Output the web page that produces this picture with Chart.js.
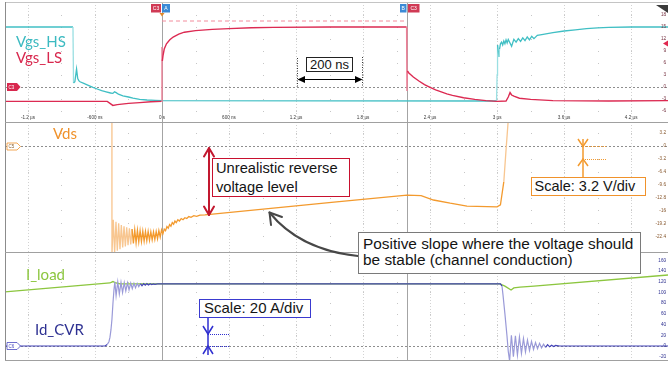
<!DOCTYPE html>
<html><head><meta charset="utf-8">
<script src="https://cdn.jsdelivr.net/npm/chart.js@4.4.1/dist/chart.umd.min.js"></script>
<style>
html,body{margin:0;padding:0;background:#fff;}
#wrap{position:relative;width:668px;height:368px;overflow:hidden;background:#fff;}
canvas{position:absolute;left:0;}
.lbl{position:absolute;font-family:Lato,"Liberation Sans",sans-serif;font-size:15px;line-height:15px;white-space:nowrap;}
.box{position:absolute;box-sizing:border-box;background:#fff;color:#141414;font-family:"Liberation Sans",Arial,sans-serif;white-space:nowrap;}
svg{position:absolute;left:0;top:0;}
</style></head><body>
<div id="wrap">
<canvas id="cTop" width="668" height="120" style="top:2px;width:668px;height:120px"></canvas>
<canvas id="cMid" width="668" height="130" style="top:122px;width:668px;height:130px"></canvas>
<canvas id="cBot" width="668" height="108" style="top:252px;width:668px;height:108px"></canvas>
<svg width="668" height="368">
 <g stroke-width="1" fill="none">
  <line x1="5" y1="2.5" x2="668" y2="2.5" stroke="#c4c4c4"/>
  <line x1="5.5" y1="2" x2="5.5" y2="361" stroke="#8c8c8c"/>
  <line x1="5" y1="122.5" x2="668" y2="122.5" stroke="#a0a0a0"/>
  <line x1="5" y1="252.5" x2="668" y2="252.5" stroke="#a0a0a0"/>
  <line x1="5" y1="360.5" x2="668" y2="360.5" stroke="#a0a0a0"/>
 </g>
 <!-- 200 ns marker -->
 <line x1="297.5" y1="58" x2="297.5" y2="87" stroke="#333" stroke-dasharray="1 1.5"/>
 <line x1="362.5" y1="57" x2="362.5" y2="86" stroke="#333" stroke-dasharray="1 1.5"/>
 <line x1="303" y1="79.5" x2="356" y2="79.5" stroke="#000"/>
 <polygon points="297.5,79.5 305,76 305,83" fill="#000"/>
 <polygon points="362.5,79.5 355,76 355,83" fill="#000"/>
 <!-- red double arrow -->
 <g stroke="#c2182f" stroke-width="2" fill="none" stroke-linecap="round" stroke-linejoin="round">
  <line x1="209" y1="148" x2="209" y2="215"/>
  <polyline points="204,156.5 209,148 214,156.5"/>
  <polyline points="204,206.5 209,215 214,206.5"/>
 </g>
 <!-- curved arrow -->
 <g stroke="#474747" stroke-width="2" fill="none" stroke-linecap="round" stroke-linejoin="round">
  <path d="M358,256 Q300,250 269.5,212.5"/>
  <polyline points="271,225 269.5,212.5 282,217"/>
 </g>
 <!-- orange scale marker -->
 <g stroke="#f39a2e" fill="none" stroke-width="1.5">
  <line x1="583" y1="139" x2="583" y2="177"/>
  <polyline points="578,139 583,146.5 588,139"/>
  <polyline points="578,166 583,159 588,166"/>
 </g>
 <g stroke="#f39a2e" stroke-width="1" stroke-dasharray="1 1">
  <line x1="583" y1="146.5" x2="606" y2="146.5"/>
  <line x1="583" y1="159.5" x2="606" y2="159.5"/>
 </g>
 <!-- blue scale marker -->
 <g stroke="#2f2fd0" fill="none" stroke-width="1.5">
  <line x1="208" y1="318" x2="208" y2="355"/>
  <polyline points="203,326 208,334 213,326"/>
  <polyline points="203,354 208,346 213,354"/>
 </g>
 <g stroke="#2f2fd0" stroke-width="1" stroke-dasharray="1 1">
  <line x1="208" y1="334.5" x2="230" y2="334.5"/>
  <line x1="208" y1="346.5" x2="230" y2="346.5"/>
 </g>
 <!-- channel tags -->
 <g font-family="Liberation Sans, Arial, sans-serif" font-size="4.5">
  <polygon points="7,83 17,83 20.5,87 17,91 7,91" fill="#d8284e"/>
  <text x="8.5" y="88.7" fill="#fff">C3</text>
  <polygon points="7,143 17,143 20.5,146.5 17,150 7,150" fill="#fff" stroke="#f0922b" stroke-width="0.8"/>
  <text x="8.5" y="148.2" fill="#8a6030">C5</text>
  <polygon points="7,342.5 17,342.5 20.5,346 17,349.5 7,349.5" fill="#fff" stroke="#4a4ac0" stroke-width="0.8"/>
  <text x="8.5" y="347.7" fill="#4a4ac0">C6</text>
  <rect x="151" y="4" width="10" height="8.5" fill="#d03a55"/>
  <text x="156" y="10" fill="#fff" text-anchor="middle" font-size="5">C3</text>
  <rect x="162" y="4" width="8" height="8.5" fill="#3b8ad6"/>
  <text x="166" y="10" fill="#fff" text-anchor="middle" font-size="5">A</text>
  <rect x="400" y="4" width="6.5" height="8.5" fill="#3b8ad6"/>
  <text x="403.2" y="10" fill="#fff" text-anchor="middle" font-size="5">B</text>
  <rect x="408" y="4" width="11.5" height="8.5" fill="#d03a55"/>
  <text x="413.7" y="10" fill="#fff" text-anchor="middle" font-size="5">C3</text>
 </g>
 <polygon points="159.5,13 164.5,13 162,16.5" fill="#e08a2a"/>
 <polygon points="656,5 668,5 668,13" fill="#3a3a3a"/>
 <polygon points="663,43.5 668,40.5 668,46.5" fill="#e0284f"/>
</svg>
<div class="lbl" style="left:16px;top:33.5px;color:#3cbac1">Vgs_HS</div>
<div class="lbl" style="left:16px;top:50px;color:#d8284e">Vgs_LS</div>
<div class="lbl" style="left:53px;top:125.7px;color:#f0922b">Vds</div>
<div class="lbl" style="left:26px;top:266.7px;color:#8cc63f">I_load</div>
<div class="lbl" style="left:35px;top:321.7px;color:#2e3192">Id_CVR</div>
<div class="box" style="left:306px;top:57px;width:47px;height:15px;border:1px solid #222;font-size:13px;line-height:13px;text-align:center;">200 ns</div>
<div class="box" style="left:212px;top:158px;width:138px;height:39px;border:1px solid #c8102e;font-size:14.7px;line-height:19px;padding-left:3px;">Unrealistic reverse<br>voltage level</div>
<div class="box" style="left:358px;top:232px;width:283px;height:42px;border:1px solid #7a7a7a;font-size:15.4px;line-height:16px;padding:3px 0 0 4px;">Positive slope where the voltage should<br>be stable (channel conduction)</div>
<div class="box" style="left:531px;top:177px;width:115px;height:19px;border:1.5px solid #f0922b;font-size:14.5px;line-height:16px;padding-left:2.5px;">Scale: 3.2 V/div</div>
<div class="box" style="left:199px;top:299px;width:112px;height:19px;border:1.5px solid #3a3ad0;font-size:15px;line-height:16px;padding-left:4px;">Scale: 20 A/div</div>
</div>
<script>
// ---- time axis (µs) ----
const X_MIN = -1.4055, X_MAX = 4.530;
const xMajorTicks = [-1.2,-0.6,0,0.6,1.2,1.8,2.4,3.0,3.6,4.2];
const xTickLabels = ['-1.2 µs','-600 ns','0 s','600 ns','1.2 µs','1.8 µs','2.4 µs','3 µs','3.6 µs','4.2 µs'];
const xMinorTicks = [-1.5,-0.9,-0.3,0.3,0.9,1.5,2.1,2.7,3.3,3.9,4.5];
const cursorTimes = [0, 2.193];

// ---- y ticks ----
const yTicksTop = [18,15,12,9,6,3,0,-3,-6];
const yLabelsTop = ['18','15','12','9','6','3','0','-3','-6'];
const yTicksMid = [3.2,0,-3.2,-6.4,-9.6,-12.8,-16,-19.2,-22.4];
const yLabelsMid = ['3.2','0','-3.2','-6.4','-9.6','-12.8','-16','-19.2','-22.4'];
const yTicksBot = [160,140,120,100,80,60,40,20,0,-20];
const yLabelsBot = ['160','140','120','100','80','60','40','20','0','-20'];

// ---- series [t (µs), value] ----
const vgsHS = [[-1.4055,15],[-0.797,15],[-0.792,1.0],[-0.78,1.3],[-0.765,4.5],[-0.755,2.2],[-0.745,1.6],[-0.734,1.3],[-0.70,0.9],[-0.66,0.4],[-0.618,-0.1],[-0.58,-0.5],[-0.54,-0.9],[-0.50,-1.2],[-0.46,-1.5],[-0.44,-1.6],[-0.425,-1.2],[-0.41,-1.4],[-0.39,-1.8],[-0.35,-2.2],[-0.30,-2.5],[-0.26,-2.8],[-0.20,-3.1],[-0.134,-3.25],[-0.06,-3.35],[0,-3.4],[1.5,-3.45],[2.995,-3.5],[3.000,3],[3.004,10.5],[3.010,9.0],[3.016,7.5],[3.022,9.5],[3.030,10.8],[3.040,11.2],[3.050,10.5],[3.060,11.5],[3.070,10.8],[3.080,11.8],[3.090,11.0],[3.100,11.9],[3.130,10.2],[3.150,11.9],[3.170,11.2],[3.190,12.1],[3.210,11.4],[3.230,12.3],[3.250,11.6],[3.270,12.5],[3.290,11.8],[3.310,12.7],[3.330,12.1],[3.360,12.9],[3.400,13.1],[3.500,13.6],[3.600,14.0],[3.700,14.3],[3.800,14.6],[3.900,14.8],[4.000,14.9],[4.200,15],[4.530,15]];
const vgsLS = [[-1.4055,-3.6],[-0.49,-3.6],[-0.44,-4.6],[-0.40,-4.4],[-0.30,-4.1],[-0.20,-3.9],[-0.10,-3.7],[-0.004,-3.6],[0,10],[0.003,6.5],[0.01,8],[0.02,9.5],[0.04,10.8],[0.07,11.8],[0.10,12.5],[0.15,13.2],[0.20,13.7],[0.30,14.1],[0.45,14.4],[0.60,14.6],[0.80,14.8],[1.0,14.9],[1.5,15],[2.19,15],[2.193,-1],[2.197,4.0],[2.21,3.5],[2.25,2.5],[2.30,1.5],[2.35,0.6],[2.40,-0.1],[2.45,-0.7],[2.50,-1.2],[2.55,-1.7],[2.60,-2.1],[2.70,-2.7],[2.80,-3.1],[2.90,-3.4],[3.00,-3.6],[3.08,-3.5],[3.10,-2.5],[3.116,-1.4],[3.13,-2.0],[3.15,-2.3],[3.20,-2.8],[3.30,-3.1],[3.50,-3.4],[4.0,-3.5],[4.53,-3.4]];
const vgsLSref = [[0,16.5],[2.193,16.5]];
const vds = [[-1.4055,30],[-0.449,30],[-0.448,-27],[-0.436,-18.3],[-0.424,-26.5],[-0.412,-18.8],[-0.400,-26],[-0.388,-19.2],[-0.376,-25.6],[-0.364,-19.6],[-0.352,-25.2],[-0.340,-19.9],[-0.328,-24.9],[-0.316,-20.2],[-0.304,-24.6],[-0.292,-20.4],[-0.280,-24.4],[-0.268,-20.6],[-0.256,-24.2],[-0.244,-20.8],[-0.232,-24.0],[-0.220,-20.9],[-0.208,-23.8],[-0.196,-21.0],[-0.184,-23.7],[-0.172,-21.1],[-0.160,-23.6],[-0.148,-21.2],[-0.136,-23.5],[-0.124,-21.2],[-0.112,-23.4],[-0.100,-21.3],[-0.088,-23.3],[-0.076,-21.3],[-0.064,-23.2],[-0.052,-21.2],[-0.040,-23.0],[-0.028,-21.0],[-0.016,-22.6],[-0.004,-20.8],[0.008,-21.8],[0.020,-20.6],[0.032,-21.0],[0.044,-20.0],[0.056,-20.4],[0.068,-19.5],[0.080,-19.9],[0.092,-19.0],[0.104,-19.4],[0.116,-18.6],[0.128,-19.0],[0.142,-18.3],[0.156,-18.6],[0.172,-18.0],[0.188,-18.3],[0.205,-17.8],[0.222,-18.0],[0.240,-17.5],[0.260,-17.7],[0.285,-17.3],[0.31,-17.45],[0.34,-17.15],[0.385,-17.1],[1.54,-13.9],[2.193,-12.2],[2.32,-12.3],[2.43,-13.4],[2.58,-14.2],[2.73,-14.9],[3.00,-15.1],[3.03,-14.6],[3.06,-8.9],[3.08,-1.0],[3.10,6.5],[3.12,30],[4.53,30]];
const iLoad = [[-1.4055,101],[-0.466,117.8],[-0.45,119.5],[-0.439,120.5],[-0.425,119],[-0.412,117.8],[-0.376,116.2],[0,116],[1.5,116],[3.026,116],[3.07,112],[3.125,104.7],[3.15,108.5],[3.205,110],[3.33,112],[4.53,132.7]];
const idCVR = [[-1.4055,0],[-0.51,0],[-0.49,3],[-0.475,8],[-0.466,16],[-0.457,30],[-0.448,50],[-0.439,80],[-0.430,105],[-0.422,120],[-0.411,94],[-0.396,120],[-0.382,97],[-0.367,119],[-0.353,100],[-0.338,118.5],[-0.324,103],[-0.309,118],[-0.295,105],[-0.280,117.5],[-0.266,107],[-0.251,117],[-0.237,109],[-0.222,117],[-0.208,111],[-0.193,116.5],[-0.179,112.5],[-0.164,116.5],[-0.150,113.5],[-0.135,116.5],[-0.121,114],[-0.106,116.3],[-0.092,114.8],[-0.077,116.2],[-0.063,115.2],[-0.040,116],[0,116],[3.03,116],[3.044,112],[3.053,95],[3.070,60],[3.088,20],[3.100,-10],[3.112,-28],[3.128,20],[3.146,-20],[3.164,19],[3.182,-17],[3.200,17],[3.218,-14],[3.236,14],[3.254,-11],[3.272,11],[3.290,-8.5],[3.308,8.5],[3.326,-6.5],[3.344,6.5],[3.362,-5],[3.380,5],[3.398,-3.5],[3.416,3.5],[3.434,-2.5],[3.452,2.5],[3.470,-1.5],[3.488,1.5],[3.506,-1],[3.524,1],[3.56,0],[4.53,0]];

const pts = a => a.map(([x,y]) => ({x,y}));
const fast = (thr, col) => c => {
  const dx = c.p1.parsed.x - c.p0.parsed.x, dy = c.p1.parsed.y - c.p0.parsed.y;
  return Math.abs(dy / (dx || 1e-9)) > thr ? col : undefined;
};

const scopePlugin = {
  id: 'scope',
  beforeDatasetsDraw(chart, args, o) {
    const {ctx, chartArea: a, scales: {x, y}} = chart;
    ctx.save();
    ctx.fillStyle = '#c6c6c6';
    for (const tx of xMinorTicks.concat(xMajorTicks)) {
      const px = Math.round(x.getPixelForValue(tx));
      for (const ty of o.yTicks) {
        if (ty === 0) continue;
        ctx.fillRect(px, Math.round(y.getPixelForValue(ty)), 1, 1);
      }
    }
    ctx.lineWidth = 1;
    ctx.strokeStyle = '#d2d2d2';
    ctx.setLineDash([1, 2]);
    for (const tx of xMajorTicks) {
      if (cursorTimes.includes(tx)) continue;
      const px = Math.round(x.getPixelForValue(tx)) + 0.5;
      ctx.beginPath(); ctx.moveTo(px, a.top); ctx.lineTo(px, a.bottom); ctx.stroke();
    }
    ctx.strokeStyle = '#8e8e8e';
    ctx.setLineDash([2, 2]);
    const pz = Math.round(y.getPixelForValue(0)) + 0.5;
    ctx.beginPath(); ctx.moveTo(a.left, pz); ctx.lineTo(a.right, pz); ctx.stroke();
    ctx.setLineDash([]);
    ctx.strokeStyle = '#a4a4a4';
    for (const tc of cursorTimes) {
      const px = Math.round(x.getPixelForValue(tc)) + 0.5;
      ctx.beginPath(); ctx.moveTo(px, a.top); ctx.lineTo(px, a.bottom); ctx.stroke();
    }
    ctx.restore();
  },
  afterDatasetsDraw(chart, args, o) {
    const {ctx, chartArea: a, scales: {x, y}} = chart;
    ctx.save();
    ctx.font = '4.6px "Liberation Sans", Arial, sans-serif';
    ctx.textBaseline = 'middle';
    ctx.textAlign = 'right';
    ctx.fillStyle = o.labelColor;
    o.yTicks.forEach((v, i) => ctx.fillText(o.yLabels[i], a.right - 2, y.getPixelForValue(v)));
    if (o.xLabels) {
      ctx.textAlign = 'center';
      ctx.fillStyle = '#3a3a3a';
      xMajorTicks.forEach((v, i) => ctx.fillText(xTickLabels[i], x.getPixelForValue(v), a.bottom - 4));
    }
    ctx.restore();
  }
};

function mk(id, datasets, ymin, ymax, opts) {
  return new Chart(document.getElementById(id), {
    type: 'line',
    data: {datasets},
    options: {
      responsive: false, animation: false, devicePixelRatio: 1, events: [],
      layout: {padding: {left: 5, right: 0, top: 0, bottom: 0}},
      scales: {
        x: {type: 'linear', min: X_MIN, max: X_MAX, display: false},
        y: {type: 'linear', min: ymin, max: ymax, display: false}
      },
      elements: {point: {radius: 0}, line: {tension: 0}},
      plugins: {legend: {display: false}, tooltip: {enabled: false}, scope: opts}
    },
    plugins: [scopePlugin]
  });
}

mk('cTop', [
  {data: pts(vgsLS), borderColor: '#dc2a52', borderWidth: 1.4, order: 0, segment: {borderColor: fast(500, '#ec7f96')}},
  {data: pts(vgsLSref), borderColor: '#f28c9c', borderWidth: 1, borderDash: [4, 3], order: 2},
  {data: pts(vgsHS), borderColor: '#40bfc4', borderWidth: 1.3, order: 1, segment: {borderColor: fast(300, '#9adfe2')}}
], -8.75, 21.25, {yTicks: yTicksTop, yLabels: yLabelsTop, labelColor: '#7a3444', xLabels: true});

mk('cMid', [
  {data: pts(vds), borderColor: '#f39a2e', borderWidth: 1.3, segment: {borderColor: fast(300, '#f8c690')}}
], -26.30, 5.955, {yTicks: yTicksMid, yLabels: yLabelsMid, labelColor: '#8a5a30'});

mk('cBot', [
  {data: pts(idCVR), borderColor: '#4343b8', borderWidth: 1.2, order: 0, segment: {borderColor: fast(300, '#9a9ad8')}},
  {data: pts(iLoad), borderColor: '#8cc63f', borderWidth: 1.3, order: 1}
], -26.17, 175.7, {yTicks: yTicksBot, yLabels: yLabelsBot, labelColor: '#2e3192'});
</script>
</body></html>
